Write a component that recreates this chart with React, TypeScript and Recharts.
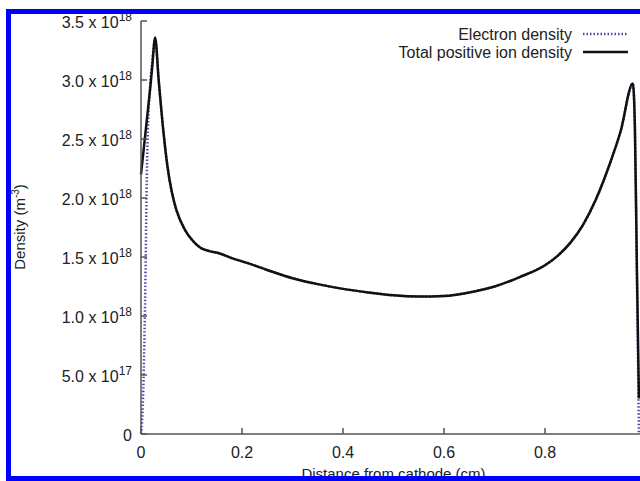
import React from "react";
import { LineChart, Line, XAxis, YAxis } from "recharts";

// distance from cathode (cm)
const distance = [
  0, 0.004, 0.008, 0.012, 0.018, 0.022, 0.028, 0.035, 0.044, 0.052, 0.061,
  0.07, 0.087, 0.1, 0.117, 0.135, 0.156, 0.18, 0.21, 0.25, 0.3, 0.35, 0.4,
  0.45, 0.5, 0.55, 0.6, 0.65, 0.7, 0.75, 0.8, 0.825, 0.85, 0.875, 0.9, 0.925,
  0.95, 0.974, 0.978, 0.982, 0.986,
];

// densities in units of 1e18 m^-3
const electron = [
  0, 0.3, 1.1, 2.3, 2.95, 3.15, 3.34, 3.0, 2.58, 2.28, 2.05, 1.9, 1.73, 1.65,
  1.58, 1.55, 1.53, 1.49, 1.45, 1.39, 1.32, 1.27, 1.23, 1.2, 1.175, 1.165, 1.17,
  1.2, 1.25, 1.33, 1.43, 1.51, 1.62, 1.77, 1.98, 2.25, 2.57, 2.97, 2.6, 1.3, 0,
];
const ion = [
  2.2, 2.36, 2.52, 2.68, 2.92, 3.1, 3.36, 3.0, 2.58, 2.28, 2.05, 1.9, 1.73, 1.65,
  1.58, 1.55, 1.53, 1.49, 1.45, 1.39, 1.32, 1.27, 1.23, 1.2, 1.175, 1.165, 1.17,
  1.2, 1.25, 1.33, 1.43, 1.51, 1.62, 1.77, 1.98, 2.25, 2.57, 2.97, 2.6, 1.4, 0.3,
];

const xTicks = [0, 0.2, 0.4, 0.6, 0.8];
const yTicks = [0, 0.5e18, 1e18, 1.5e18, 2e18, 2.5e18, 3e18, 3.5e18];

const data = distance.map((d, i) => ({
  d,
  electron: electron[i] * 1e18,
  ion: ion[i] * 1e18,
}));

const FONT = "'Liberation Sans', Arial, Helvetica, sans-serif";
const TEXT = "#222";
const AXIS = "#555";
const E_COLOR = "#4a4aa8";

const YTick = (props: any) => {
  const { x, y, payload } = props;
  const v = payload.value;
  let label: React.ReactNode = "0";
  if (v !== 0) {
    const exp = Math.floor(Math.log10(v) + 1e-9);
    const mant = (v / Math.pow(10, exp)).toFixed(1);
    label = (
      <>
        {mant} x 10
        <tspan dy={-7} fontSize={12}>
          {exp}
        </tspan>
      </>
    );
  }
  return (
    <g>
      <line x1={x} x2={x + 6} y1={y} y2={y} stroke={AXIS} strokeWidth={1.5} />
      <text
        x={x - 9}
        y={y + 7}
        textAnchor="end"
        fontSize={16}
        fontFamily={FONT}
        fill={TEXT}
      >
        {label}
      </text>
    </g>
  );
};

const XTick = (props: any) => {
  const { x, y, payload } = props;
  const v = payload.value;
  const label = v === 0 ? "0" : v.toFixed(1);
  return (
    <g>
      <line x1={x} x2={x} y1={y} y2={y - 6} stroke={AXIS} strokeWidth={1.5} />
      <text
        x={x}
        y={y + 24}
        textAnchor="middle"
        fontSize={16}
        fontFamily={FONT}
        fill={TEXT}
      >
        {label}
      </text>
    </g>
  );
};

const TopTick = (props: any) => {
  const { x, y } = props;
  return <line x1={x} x2={x} y1={y} y2={y + 6} stroke={AXIS} strokeWidth={1.5} />;
};

const KeyBox = () => (
  <svg
    width={260}
    height={40}
    style={{ position: "absolute", left: 380, top: 25, display: "block" }}
  >
    <text x={192} y={15} textAnchor="end" fontSize={16} fontFamily={FONT} fill={TEXT}>
      Electron density
    </text>
    <line x1={203} x2={248} y1={9} y2={9} stroke={E_COLOR} strokeWidth={2.5} strokeDasharray="1.5 2" />
    <text x={192} y={33} textAnchor="end" fontSize={16} fontFamily={FONT} fill={TEXT}>
      Total positive ion density
    </text>
    <line x1={203} x2={248} y1={27} y2={27} stroke="#111" strokeWidth={2.5} />
  </svg>
);

export default function App() {
  return (
    <div
      style={{
        position: "absolute",
        left: 0,
        top: 0,
        width: 640,
        height: 481,
        overflow: "hidden",
        background: "#fff",
      }}
    >
      <div style={{ position: "absolute", left: 0, top: 0 }}>
        <LineChart
          width={700}
          height={481}
          data={data}
          margin={{ top: 21, right: 54, bottom: 17, left: 11 }}
        >
          <XAxis
            xAxisId="bottom"
            dataKey="d"
            type="number"
            domain={[0, 1]}
            ticks={xTicks}
            height={30}
            tickSize={0}
            tickMargin={0}
            tickLine={false}
            axisLine={{ stroke: AXIS, strokeWidth: 1.5 }}
            tick={<XTick />}
            interval={0}
            label={(p: any) => {
              const vb = p.viewBox;
              return (
                <text
                  x={vb.x + vb.width / 2}
                  y={479}
                  textAnchor="middle"
                  fontSize={15}
                  fontFamily={FONT}
                  fill={TEXT}
                >
                  Distance from cathode (cm)
                </text>
              );
            }}
          />
          <XAxis
            xAxisId="top"
            orientation="top"
            dataKey="d"
            type="number"
            domain={[0, 1]}
            ticks={xTicks}
            height={0}
            tickSize={0}
            tickMargin={0}
            tickLine={false}
            axisLine={{ stroke: AXIS, strokeWidth: 1.5 }}
            tick={<TopTick />}
            interval={0}
          />
          <YAxis
            type="number"
            domain={[0, 3.5e18]}
            ticks={yTicks}
            width={130}
            tickSize={0}
            tickMargin={0}
            tickLine={false}
            axisLine={{ stroke: AXIS, strokeWidth: 1.5 }}
            tick={<YTick />}
            interval={0}
            label={() => (
              <text
                x={25}
                y={227}
                transform="rotate(-90 25 227)"
                textAnchor="middle"
                fontSize={15}
                fontFamily={FONT}
                fill={TEXT}
              >
                Density (m
                <tspan dy={-6} fontSize={10}>
                  -3
                </tspan>
                <tspan dy={6}>)</tspan>
              </text>
            )}
          />
          <Line
            xAxisId="bottom"
            type="monotone"
            dataKey="electron"
            stroke={E_COLOR}
            strokeWidth={2.5}
            strokeDasharray="1.5 2"
            dot={false}
            isAnimationActive={false}
          />
          <Line
            xAxisId="bottom"
            type="monotone"
            dataKey="ion"
            stroke="#111"
            strokeWidth={2.5}
            dot={false}
            isAnimationActive={false}
          />
        </LineChart>
      </div>
      <KeyBox />
      <div
        style={{
          position: "absolute",
          left: 6,
          top: 9,
          width: 700,
          height: 472,
          border: "5px solid #0000ff",
          boxSizing: "border-box",
          pointerEvents: "none",
        }}
      />
    </div>
  );
}
